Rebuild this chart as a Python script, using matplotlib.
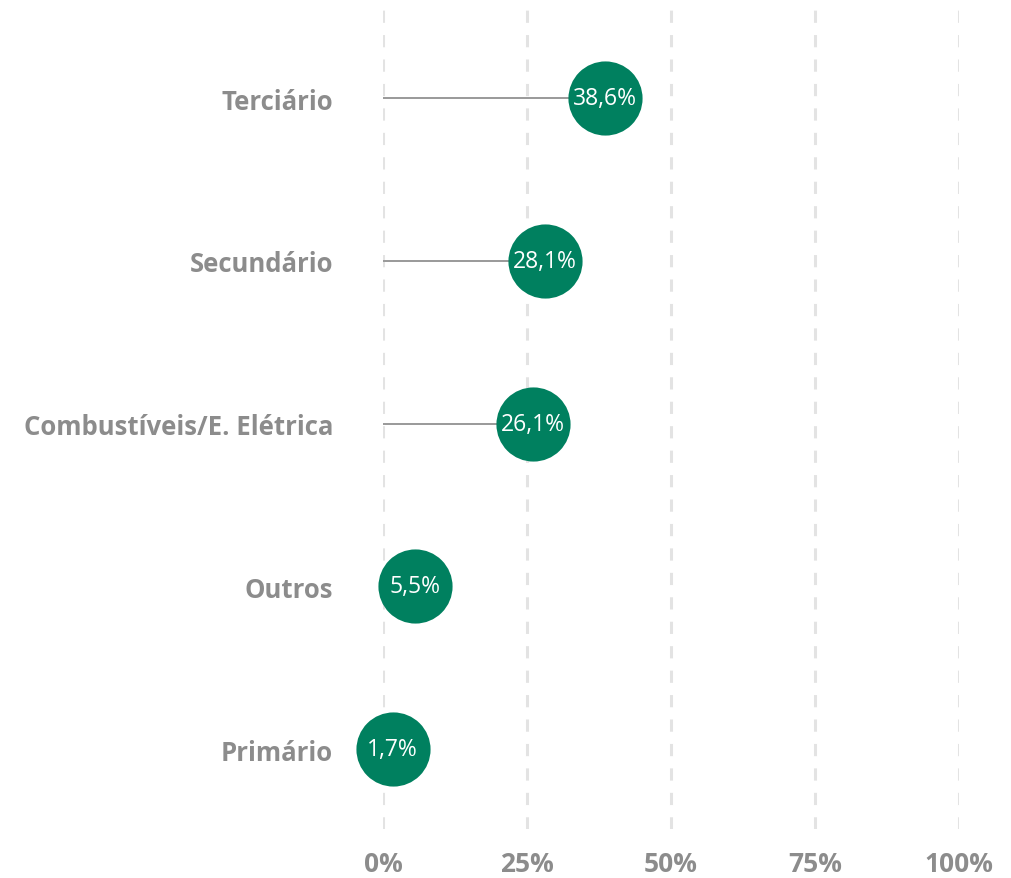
import matplotlib.pyplot as plt
import numpy as np

# Data
categories = ['Primário', 'Outros', 'Combustíveis/E. Elétrica', 'Secundário', 'Terciário']
values = [1.7, 5.5, 26.1, 28.1, 38.6]
value_labels = ['1,7%', '5,5%', '26,1%', '28,1%', '38,6%']
xticks = [0, 25, 50, 75, 100]
xtick_labels = ['0%', '25%', '50%', '75%', '100%']

plt.rcParams['font.family'] = ['Open Sans', 'DejaVu Sans']

fig = plt.figure(figsize=(10.12, 8.79), dpi=100)
ax = fig.add_axes([383 / 1012, 49 / 879, 576 / 1012, 820 / 879])

green = '#00805F'
gray = '#8c8c8c'

y_pos = np.arange(len(categories))

# vertical dashed grid lines
for t in xticks:
    ax.axvline(t, color='#e3e3e3', lw=2.2, linestyle=(0, (4, 4)), zorder=0)

# stems
ax.hlines(y_pos, 0, values, color='#999999', lw=1.4, zorder=1)

# bubbles
ax.scatter(values, y_pos, s=2850, color=green, zorder=2, clip_on=False, linewidths=0)

for v, y, lab in zip(values, y_pos, value_labels):
    ax.text(v, y, lab, color='white', fontsize=16.5, ha='center', va='center', zorder=3)

ax.set_xlim(0, 100)
ax.set_ylim(-0.49, 4.547)
ax.set_xticks(xticks)
ax.set_xticklabels(xtick_labels, fontsize=19, fontweight='bold', color=gray)
ax.set_yticks(y_pos)
ax.set_yticklabels(categories, fontsize=18.5, fontweight='bold', color=gray)
ax.tick_params(length=0)
ax.tick_params(axis='y', pad=36)
ax.tick_params(axis='x', pad=15)

for s in ax.spines.values():
    s.set_visible(False)

fig.savefig('out.png', dpi=100)
